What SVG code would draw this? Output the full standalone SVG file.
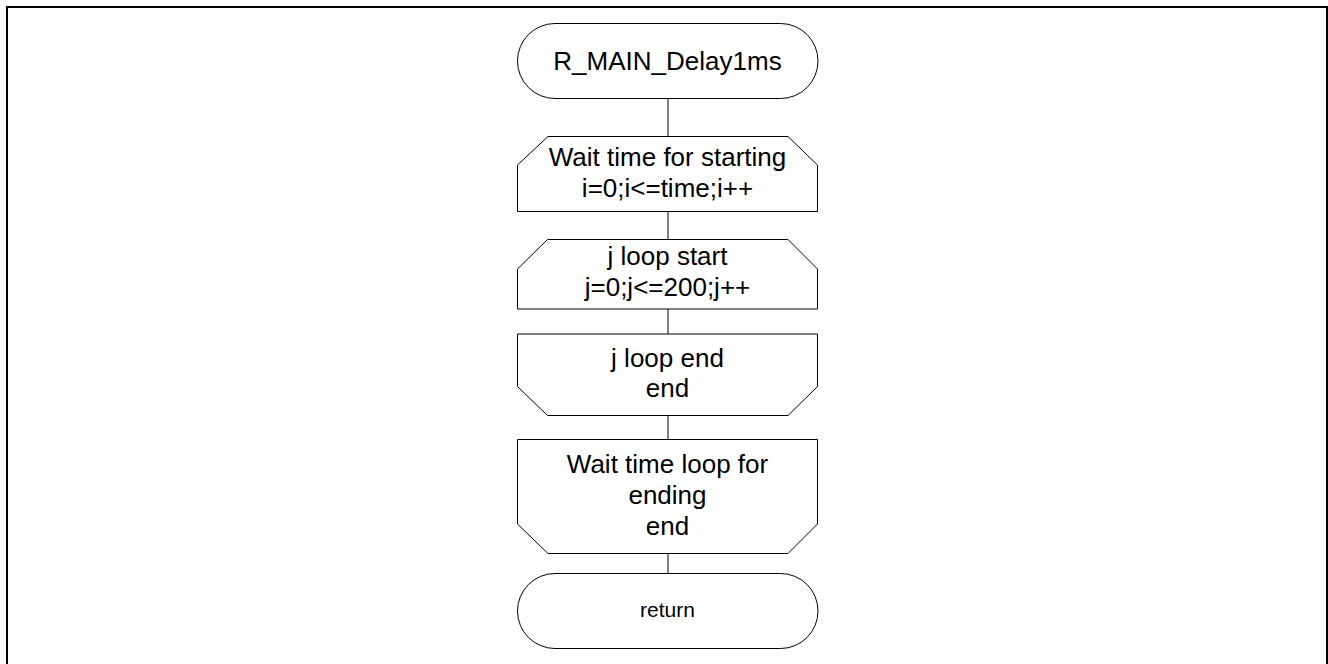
<svg xmlns="http://www.w3.org/2000/svg" width="1328" height="664" viewBox="0 0 1328 664">
<style>
.s{fill:#fff;stroke:#000;stroke-width:1}
.t{font-family:"Liberation Sans",Arial,sans-serif;font-size:26px;fill:#000;text-anchor:middle}
.r{font-size:21px}
.c{stroke:#000;stroke-width:1;fill:none}
</style>
<rect x="0" y="0" width="1328" height="664" fill="#fff"/>
<rect x="7" y="7" width="1320" height="700" fill="none" stroke="#000" stroke-width="2"/>
<g id="connectors">
<line class="c" x1="668" y1="98" x2="668" y2="137"/>
<line class="c" x1="668" y1="212" x2="668" y2="239"/>
<line class="c" x1="668" y1="309" x2="668" y2="334"/>
<line class="c" x1="668" y1="416" x2="668" y2="439"/>
<line class="c" x1="668" y1="554" x2="668" y2="573"/>
</g>
<g id="start">
<rect class="s" x="517.5" y="23.5" width="300.5" height="75" rx="37.5" ry="37.5"/>
<text class="t" x="667.5" y="70">R_MAIN_Delay1ms</text>
</g>
<g id="loop1start">
<polygon class="s" points="548,136.5 788,136.5 817.5,165 817.5,211.5 517.5,211.5 517.5,165"/>
<text class="t" x="667.5" y="166">Wait time for starting</text>
<text class="t" x="667.5" y="197">i=0;i&lt;=time;i++</text>
</g>
<g id="loop2start">
<polygon class="s" points="547.5,239.5 788,239.5 817.5,269 817.5,309 517.5,309 517.5,269"/>
<text class="t" x="667.5" y="265">j loop start</text>
<text class="t" x="667.5" y="296">j=0;j&lt;=200;j++</text>
</g>
<g id="loop2end">
<polygon class="s" points="517.5,334 817.5,334 817.5,386.5 788,415.5 547.5,415.5 517.5,386.5"/>
<text class="t" x="667.5" y="367">j loop end</text>
<text class="t" x="667.5" y="397">end</text>
</g>
<g id="loop1end">
<polygon class="s" points="517.5,439.5 817.5,439.5 817.5,524 788,553.5 548,553.5 517.5,524"/>
<text class="t" x="667.5" y="473">Wait time loop for</text>
<text class="t" x="667.5" y="504">ending</text>
<text class="t" x="667.5" y="535">end</text>
</g>
<g id="return">
<rect class="s" x="517.5" y="573.5" width="300.5" height="75" rx="37.5" ry="37.5"/>
<text class="t r" x="667.5" y="617">return</text>
</g>
</svg>
